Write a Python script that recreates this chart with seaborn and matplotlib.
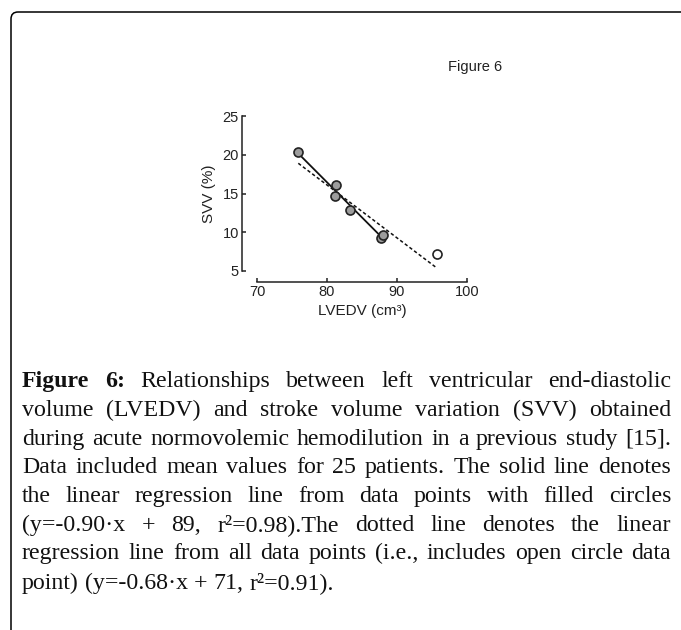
import numpy as np
import pandas as pd
import matplotlib
matplotlib.use("Agg")
import matplotlib.pyplot as plt
from matplotlib.patches import FancyBboxPatch
import seaborn as sns

# data
filled_x = [75.9, 81.3, 81.2, 83.3, 87.7, 88.0]
filled_y = [20.3, 16.1, 14.7, 12.9, 9.2, 9.7]
open_x = [95.7]
open_y = [7.2]
x_ticks = [70, 80, 90, 100]
y_ticks = [5, 10, 15, 20, 25]

caption_lines = [
    [("Figure", "bold"), ("6:", "bold"), ("Relationships", "normal"), ("between", "normal"),
     ("left", "normal"), ("ventricular", "normal"), ("end-diastolic", "normal")],
    "volume (LVEDV) and stroke volume variation (SVV) obtained",
    "during acute normovolemic hemodilution in a previous study [15].",
    "Data included mean values for 25 patients. The solid line denotes",
    "the linear regression line from data points with filled circles",
    "(y=-0.90·x + 89, r²=0.98).The dotted line denotes the linear",
    "regression line from all data points (i.e., includes open circle data",
    "point) (y=-0.68·x + 71, r²=0.91).",
]

sns.set_style("ticks")
plt.rcParams["font.family"] = ["Liberation Sans", "DejaVu Sans"]

W, H = 681, 630
fig = plt.figure(figsize=(W / 100, H / 100), dpi=100)

# axes placed so that the data area matches the reference
ax = fig.add_axes([257 / W, 1 - 271 / H, 210 / W, 155 / H])

df_f = pd.DataFrame({"x": filled_x, "y": filled_y})
df_all = pd.DataFrame({"x": filled_x + open_x, "y": filled_y + open_y})

sns.regplot(data=df_all, x="x", y="y", ci=None, scatter=False, ax=ax,
            line_kws=dict(color="#111111", lw=1.1, ls=(0, (2.2, 1.6))))
sns.regplot(data=df_f, x="x", y="y", ci=None, scatter=False, ax=ax,
            line_kws=dict(color="#111111", lw=1.3))
sns.scatterplot(data=df_f, x="x", y="y", ax=ax, s=42, color="#9c9c9c",
                edgecolor="#222222", linewidth=1.2, zorder=5)
sns.scatterplot(x=open_x, y=open_y, ax=ax, s=42, color="white",
                edgecolor="#222222", linewidth=1.2, zorder=5)

ax.set_xlim(70, 100)
ax.set_ylim(5, 25)
ax.set_xticks(x_ticks)
ax.set_yticks(y_ticks)
ax.tick_params(direction="in", length=3, width=1.1, labelsize=10.5, pad=2,
               colors="#222222")
ax.set_xlabel("LVEDV (cm³)", fontsize=11, color="#222222", labelpad=4)
ax.set_ylabel("SVV (%)", fontsize=11, color="#222222", labelpad=5)
sns.despine(ax=ax, offset=dict(left=11, bottom=8))
for s in ("left", "bottom"):
    ax.spines[s].set_linewidth(1.1)
    ax.spines[s].set_color("#222222")

fig.text(475 / W, 1 - 67 / H, "Figure 6", ha="center", va="center",
         fontsize=10.5, color="#222222")

# rounded frame (top-left corner visible only)
frame = FancyBboxPatch((0.11, -1.0), 8.0, H / 100 - 0.12 + 1.0,
                       boxstyle="round,pad=0,rounding_size=0.07",
                       transform=fig.dpi_scale_trans, fill=False,
                       lw=1.1, edgecolor="black")
fig.add_artist(frame)

# justified caption
serif = ["Liberation Serif", "DejaVu Serif"]
fig.canvas.draw()
rend = fig.canvas.get_renderer()


def text_w(s, weight, fs):
    t = fig.text(0, 0, s, fontsize=fs, family=serif, weight=weight)
    w = t.get_window_extent(rend).width
    t.remove()
    return w


left, right = 22, 671
# size the serif font so the un-stretched third line fills the column
fs = 10 * (right - left) / text_w(caption_lines[2], "normal", 10) * 0.98
space = text_w("a a", "normal", fs) - text_w("aa", "normal", fs)
baselines = [387, 416, 445, 473, 502, 531, 559, 589]

for i, line in enumerate(caption_lines):
    if isinstance(line, str):
        words = [(w, "normal") for w in line.split()]
    else:
        words = line
    widths = [text_w(w, wt, fs) for w, wt in words]
    if i < len(caption_lines) - 1 and len(words) > 1:
        gap = (right - left - sum(widths)) / (len(words) - 1)
    else:
        gap = space
    x = left
    for (w, wt), ww in zip(words, widths):
        fig.text(x / W, 1 - baselines[i] / H, w, fontsize=fs, family=serif,
                 weight=wt, va="baseline", ha="left", color="#111111")
        x += ww + gap

fig.savefig("out.png", dpi=100)
